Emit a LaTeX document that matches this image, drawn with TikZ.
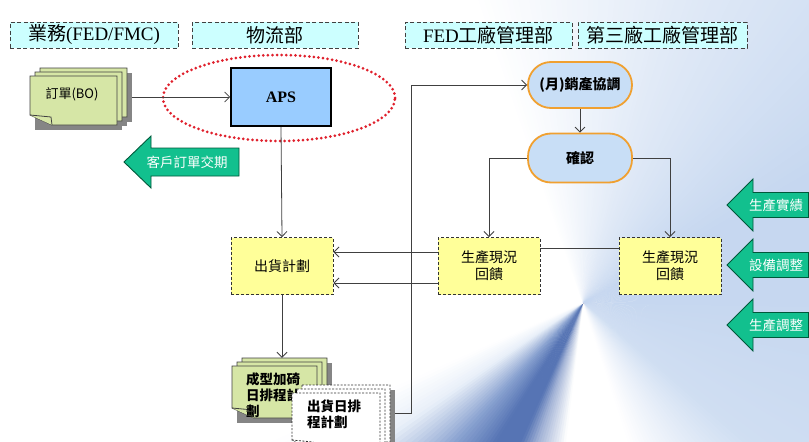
\documentclass[tikz,border=0pt]{standalone}
\usepackage{fontspec}
\setmainfont{Noto Sans CJK TC}
\newfontfamily\myser{Liberation Serif}
\usetikzlibrary{arrows.meta,calc}
\definecolor{hdrfill}{HTML}{CCFFFF}
\definecolor{apsfill}{HTML}{99CCFF}
\definecolor{docgreen}{HTML}{D6E6A6}
\definecolor{arrgreen}{HTML}{12C08E}
\definecolor{arrborder}{HTML}{00583A}
\definecolor{yel}{HTML}{FFFF99}
\definecolor{pillfill}{HTML}{C8DEF6}
\definecolor{pillborder}{HTML}{F0A030}
\definecolor{bgblue}{HTML}{C0D3EE}
\definecolor{swirl}{HTML}{5674B4}
\definecolor{redot}{HTML}{E0202C}
\definecolor{shadowgray}{HTML}{858585}
\colorlet{cA}{bgblue!90}
\colorlet{cB}{bgblue!75}
\colorlet{cW}{white}
\colorlet{cD}{swirl}
\colorlet{cM}{swirl!55!white}
\colorlet{cE}{swirl!55!bgblue}
\colorlet{cL}{bgblue!35}
\colorlet{cT}{bgblue!50}
\newcommand\fsz[1]{\fontsize{#1}{#1}\selectfont}
% sheet with folded bottom-left corner: x1 y1 x2 y2
\newcommand\mysheet[5]{%
  \filldraw[#5] (#1,#2) -- (#3,#2) -- (#3,#4) -- (#1+22,#4) -- (#1,#4-10) -- cycle;
  \draw[#5] (#1,#4-10) -- (#1+21,#4-8) -- (#1+22,#4);}
\newcommand\myshadow[4]{%
  \fill[shadowgray] (#1+5,#2+5) rectangle (#3+5,#4+5);}
\begin{document}
\begin{tikzpicture}[x=1pt,y=-1pt,
  hdr/.style={draw=black!75, dash pattern=on 4pt off 2.5pt, fill=hdrfill,
    minimum height=26pt, inner sep=0pt, line width=0.9pt, font=\fsz{19}},
  ybox/.style={draw=black!80, dash pattern=on 3pt off 2pt, fill=yel,
    minimum width=102pt, minimum height=57pt, align=center, inner sep=0pt,
    line width=0.9pt, font=\fontsize{14}{17}\selectfont},
  pill/.style={draw=pillborder, line width=1.8pt, fill=pillfill,
    rounded corners=23pt, minimum width=104pt, font=\bfseries\fsz{14}},
  conn/.style={draw=black!75, line width=0.8pt},
  arr/.style={conn, -{Straight Barb[length=5pt,width=10pt]}},
  garrow/.style={fill=arrgreen, draw=arrborder, line width=0.9pt},
  gtext/.style={text=white, font=\fsz{13.5}, inner sep=0pt},
  greensheet/.style={fill=docgreen, draw=black!75, line width=0.8pt},
  whitesheet/.style={fill=white, draw=black!80, line width=0.8pt, dash pattern=on 2pt off 1.5pt},
  doctext/.style={align=left, font=\bfseries\fontsize{13.5}{16}\selectfont, inner sep=0pt}
]
\useasboundingbox (0,0) rectangle (809,442);
% background: conical swirl
\begin{scope}
\clip (0,0) rectangle (809,442);
\fill[white] (0,0) rectangle (809,442);
\foreach \as/\ae/\ca/\cb in {0/40/cA/cB, 40/72/cB/cW, 72/97/cW/cW, 97/108/cW/cM,
   108/114/cM/cD, 114/122/cD/cD, 122/132/cD/cE, 132/146/cE/cL, 146/156/cL/cW,
   156/250/cW/cW, 250/290/cW/cT, 290/330/cT/cA, 330/360/cA/cA}{
  \pgfmathtruncatemacro\nn{\ae-\as-1}
  \foreach \k in {0,...,\nn}{
    \pgfmathsetmacro\pp{100-100*(\k+0.5)/(\ae-\as)}
    \pgfmathsetmacro\aa{\as+\k}
    \pgfmathsetmacro\ab{\as+\k+1.4}
    \fill[color=\ca!\pp!\cb] (583,303) -- +(\aa:720) -- +(\ab:720) -- cycle;
  }
}
\end{scope}

% headers
\node[hdr, minimum width=168pt] (h1) at (94,35) {業務\myser(FED/FMC)};
\node[hdr, minimum width=166pt] (h2) at (275,35) {物流部};
\node[hdr, minimum width=167pt] (h3) at (488.5,35) {{\myser FED}工廠管理部};
\node[hdr, minimum width=169pt] (h4) at (662.5,35) {第三廠工廠管理部};

% order stack
\myshadow{40}{68}{127}{117}
\myshadow{35}{72}{122}{121}
\myshadow{30}{76}{117}{125}
\mysheet{40}{68}{127}{117}{greensheet}
\mysheet{35}{72}{122}{121}{greensheet}
\mysheet{30}{76}{117}{125}{greensheet}
\node[font=\fsz{13}, inner sep=0pt] at (72,94) {訂單(BO)};
\node[minimum width=102pt, minimum height=62pt, inner sep=0pt] (order) at (81,99) {};

% APS and ellipse
\draw[redot, line width=3pt, line cap=round, dash pattern=on 0pt off 4.6pt]
  (279,98) ellipse [x radius=116pt, y radius=43pt];
\node[draw=black, line width=1.6pt, fill=apsfill, minimum width=100pt, minimum height=58pt,
  inner sep=0pt, font=\myser\bfseries\fsz{16}] (aps) at (281,97) {APS};
\draw[arr] (order.east |- aps.west) -- (aps.west);

% customer delivery arrow
\filldraw[garrow] (124,162) -- (151,136) -- (151,148) -- (239,148) -- (239,176) -- (151,176) -- (151,188) -- cycle;
\node[gtext] (cust) at (187,162) {客戶訂單交期};

% right arrows
\foreach \c/\t/\n in {205/生產實績/pa, 265/設備調整/pb, 325/生產調整/pc}{
  \filldraw[garrow] (727,\c) -- (753,\c-26) -- (753,\c-12.5) -- (808.5,\c-12.5)
    -- (808.5,\c+12.5) -- (753,\c+12.5) -- (753,\c+26) -- cycle;
  \node[gtext] (\n) at (776,\c) {\t};
}

% process boxes
\node[ybox] (ship) at (282,266) {出貨計劃};
\node[ybox] (fed) at (489,266) {生產現況\\回饋};
\node[ybox] (f3) at (670,266) {生產現況\\回饋};
\node[pill, minimum height=46pt] (sales) at (580,85) {(月)銷產協調};
\node[pill, minimum height=49pt] (conf) at (580,158) {確認};

% plan stacks
\myshadow{242}{358}{327}{410}
\myshadow{237}{362}{322}{414}
\myshadow{232}{366}{317}{418}
\mysheet{242}{358}{327}{410}{greensheet}
\mysheet{237}{362}{322}{414}{greensheet}
\mysheet{232}{366}{317}{418}{greensheet}
\node[doctext, anchor=north west] at (246,373) {成型加碕\\日排程計\\劃};
\node[minimum width=100pt, minimum height=65pt, inner sep=0pt] (plan1) at (282,390.5) {};

\myshadow{302}{385}{390}{442}
\myshadow{297}{389}{385}{446}
\myshadow{292}{393}{380}{450}
\mysheet{302}{385}{390}{442}{whitesheet}
\mysheet{297}{389}{385}{446}{whitesheet}
\mysheet{292}{393}{380}{450}{whitesheet}
\node[doctext, anchor=north west] at (307,400) {出貨日排\\程計劃};
\node[minimum width=103pt, minimum height=56pt, inner sep=0pt] (plan2) at (343.5,413) {};

% connectors
\draw[arr] (aps.south) -- (ship.north);
\draw[arr] (sales.south) -- (conf.north);
\draw[arr] (conf.west) -| (fed.north);
\draw[arr] (conf.east) -| (f3.north);
\draw[arr] ([yshift=14pt]fed.west) -- ([yshift=14pt]ship.east);
\draw[arr] ([yshift=-17pt]fed.west) -- ([yshift=-17pt]ship.east);
\draw[conn] ([yshift=18pt]fed.east) -- ([yshift=18pt]f3.west);
\draw[arr] (ship.south) -- (plan1.north);
\draw[arr] (plan2.east) -- (411,413) |- (sales.west);
\end{tikzpicture}
\end{document}
